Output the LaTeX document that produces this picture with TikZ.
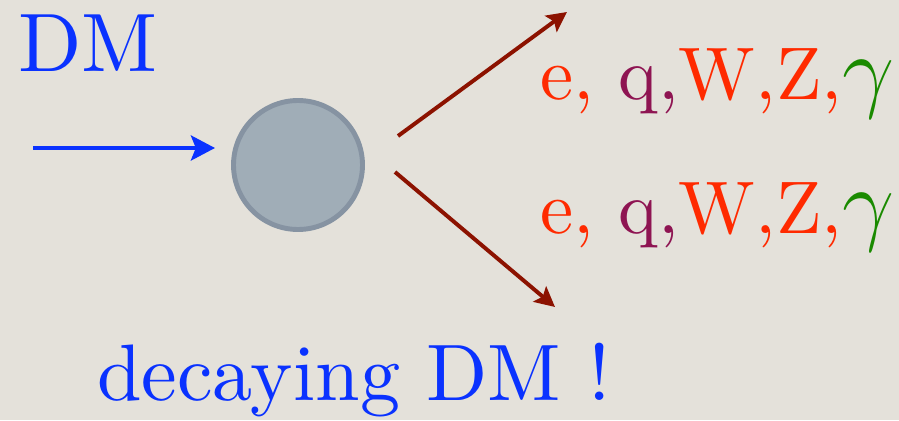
\documentclass[tikz,border=0pt]{standalone}
\usepackage{fontspec}
\setmainfont{lmroman10-regular}[Extension=.otf]
\usetikzlibrary{arrows.meta,positioning,calc}

\definecolor{paper}{RGB}{228,225,218}
\definecolor{dmblue}{RGB}{10,50,255}
\definecolor{decred}{RGB}{140,18,0}
\definecolor{lepred}{RGB}{255,42,0}
\definecolor{qpurple}{RGB}{142,20,82}
\definecolor{gamgreen}{RGB}{26,138,0}
\definecolor{blobfill}{RGB}{160,173,183}
\definecolor{blobedge}{RGB}{134,147,162}

\newcommand{\biggam}{\textcolor{gamgreen}{\scalebox{2.65}{$\gamma$}}}

\begin{document}
\begin{tikzpicture}[
  %% ─── styles ─────────────────────────────────
  bigtext/.style={anchor=base west, inner sep=0pt, font=\fontsize{53pt}{58pt}\selectfont},
  blob/.style={circle, draw=blobedge, fill=blobfill, line width=3.5pt,
    minimum size=3.225cm, inner sep=0pt},
  inarr/.style={-{Stealth[length=0.6cm, width=0.62cm, inset=0.12cm]},
    line width=3.4pt, color=dmblue},
  outarr/.style={-{Stealth[length=0.5cm, width=0.5cm, inset=0.1cm]},
    line width=2.8pt, color=decred}
]

  %% ─── frame ──────────────────────────────────
  \fill[paper] (0,0) rectangle (22.475,10.5);
  \useasboundingbox (0,0) rectangle (22.475,10.5);

  %% ─── incoming DM ────────────────────────────
  \node[bigtext, text=dmblue, font=\fontsize{59pt}{62pt}\selectfont] (dmlabel) at (0.45,8.7) {DM};
  \node[blob] (blob) at (7.45,6.375) {};
  \coordinate (dmin) at (0.825,6.8);
  \draw[inarr] (dmin) -- (dmin -| blob.west) [shorten >=0.4cm];

  %% ─── decay products ─────────────────────────
  \coordinate (upstart) at (9.95,7.1);
  \coordinate (upend) at (14.175,10.2);
  \coordinate (lowstart) at (9.875,6.2);
  \coordinate (lowend) at (13.875,2.825);

  \draw[outarr] (upstart) -- (upend);
  \draw[outarr] (lowstart) -- (lowend);

  \node[bigtext] (produp) at (13.5,8.0)
    {\textcolor{lepred}{e,} \textcolor{qpurple}{q,}\textcolor{lepred}{W,Z,}\biggam};
  \node[bigtext] (prodlow) at (13.5,4.675)
    {\textcolor{lepred}{e,} \textcolor{qpurple}{q,}\textcolor{lepred}{W,Z,}\biggam};

  %% ─── caption ────────────────────────────────
  \node[bigtext, text=dmblue, font=\fontsize{57pt}{60pt}\selectfont] (caption) at (2.425,0.5) {decaying DM !};

\end{tikzpicture}
\end{document}
